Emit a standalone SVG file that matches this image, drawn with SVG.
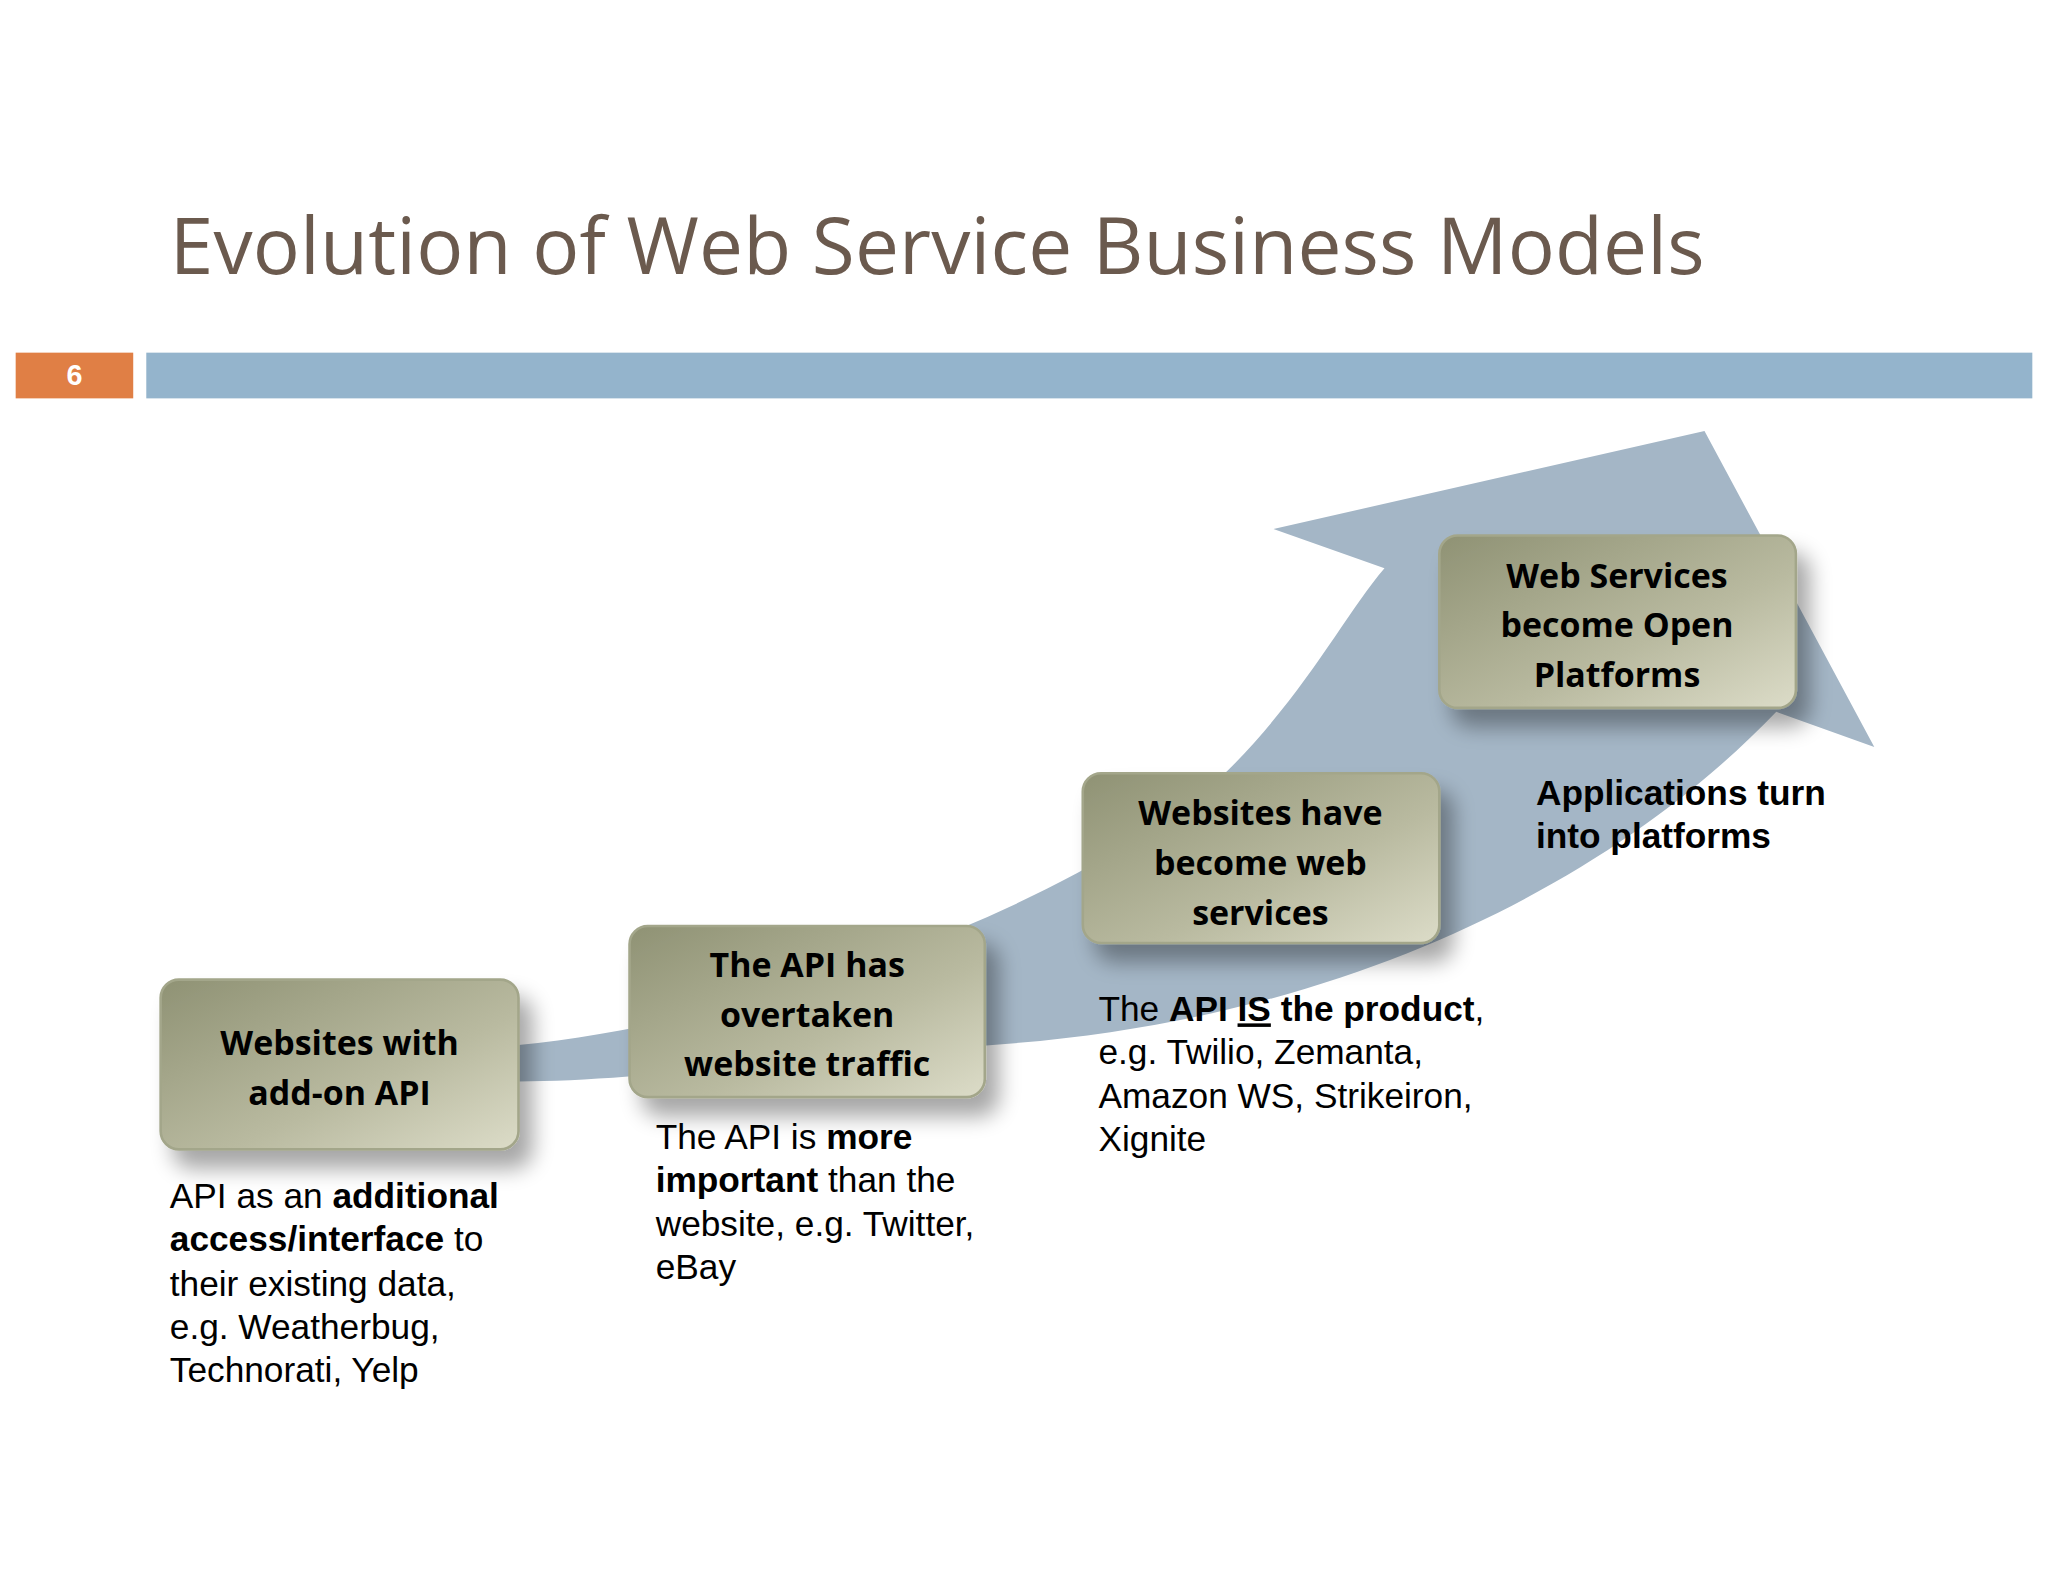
<svg xmlns="http://www.w3.org/2000/svg" width="2048" height="1582" viewBox="0 0 2048 1582">
<defs>
<linearGradient id="g" x1="0" y1="0" x2="1" y2="1"><stop offset="0" stop-color="#8f9274"/><stop offset="0.6" stop-color="#b9baa0"/><stop offset="1" stop-color="#dcdcc8"/></linearGradient>
<filter id="sh" x="-20%" y="-20%" width="150%" height="160%"><feGaussianBlur in="SourceAlpha" stdDeviation="8"/><feOffset dx="10" dy="14"/><feComponentTransfer><feFuncA type="linear" slope="0.35"/></feComponentTransfer><feMerge><feMergeNode/><feMergeNode in="SourceGraphic"/></feMerge></filter>
<style>
.bx{fill:url(#g);stroke:#a3a68a;stroke-width:2;filter:url(#sh)}
.bt{font-family:"Open Sans","DejaVu Sans",sans-serif;font-weight:bold;font-size:26px;fill:#000;text-anchor:middle}
.d{font-family:"Liberation Sans",Arial,sans-serif;font-size:27px;fill:#000}
.b{font-weight:bold}
</style>
</defs>
<rect width="2048" height="1582" fill="#fff"/>
<g transform="scale(1.30612)">
<text x="130" y="210" font-family="Open Sans,DejaVu Sans,sans-serif" font-size="60" fill="#6b5a4e" textLength="1175">Evolution of Web Service Business Models</text>
<rect x="12" y="270" width="90" height="35" fill="#e07f45"/>
<text x="57" y="295" font-family="Liberation Sans,Arial,sans-serif" font-weight="bold" font-size="22" fill="#fff" text-anchor="middle">6</text>
<rect x="112" y="270" width="1444" height="35" fill="#94b4cc"/>
<g id="connectors">
<path d="M397,800 C560,785 820,700 940,590 C1000,530 1030,470 1060,435 L975,405 L1305,330 L1435,572 L1360,545 C1250,660 1050,780 760,800 C600,812 480,828 397,828 Z" fill="#a4b6c6"/>
</g>
<g id="n1"><rect class="bx" x="123" y="750" width="274" height="130" rx="14"/>
<text class="bt" x="260" y="808">Websites with</text><text class="bt" x="260" y="846">add-on API</text></g>
<g id="n2"><rect class="bx" x="482" y="709" width="272" height="131" rx="14"/>
<text class="bt" x="618" y="748">The API has</text><text class="bt" x="618" y="786">overtaken</text><text class="bt" x="618" y="824">website traffic</text></g>
<g id="n3"><rect class="bx" x="829" y="592" width="273" height="130" rx="14"/>
<text class="bt" x="965" y="632">Websites have</text><text class="bt" x="965" y="670">become web</text><text class="bt" x="965" y="708">services</text></g>
<g id="n4"><rect class="bx" x="1102" y="410" width="273" height="132" rx="14"/>
<text class="bt" x="1238" y="450">Web Services</text><text class="bt" x="1238" y="488">become Open</text><text class="bt" x="1238" y="526">Platforms</text></g>
<g id="t1" class="d">
<text x="130" y="925">API as an <tspan class="b">additional</tspan></text>
<text x="130" y="958"><tspan class="b">access/interface</tspan> to</text>
<text x="130" y="992">their existing data,</text>
<text x="130" y="1025">e.g. Weatherbug,</text>
<text x="130" y="1058">Technorati, Yelp</text></g>
<g id="t2" class="d">
<text x="502" y="880">The API is <tspan class="b">more</tspan></text>
<text x="502" y="913"><tspan class="b">important</tspan> than the</text>
<text x="502" y="946">website, e.g. Twitter,</text>
<text x="502" y="979">eBay</text></g>
<g id="t3" class="d">
<text x="841" y="782">The <tspan class="b">API</tspan> <tspan class="b" text-decoration="underline">IS</tspan> <tspan class="b">the product</tspan>,</text>
<text x="841" y="815">e.g. Twilio, Zemanta,</text>
<text x="841" y="848">Amazon WS, Strikeiron,</text>
<text x="841" y="881">Xignite</text></g>
<g id="t4" class="d b">
<text x="1176" y="616">Applications turn</text>
<text x="1176" y="649">into platforms</text></g>
</g>
</svg>
